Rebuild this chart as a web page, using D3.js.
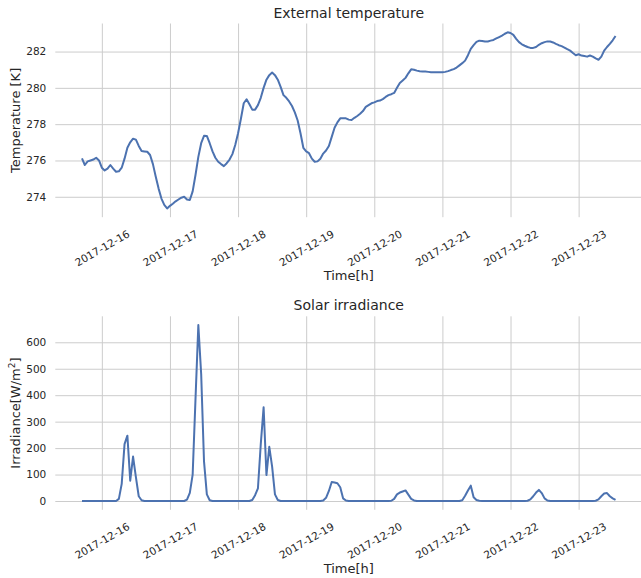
<!DOCTYPE html>
<html>
<head>
<meta charset="utf-8">
<script src="https://cdn.jsdelivr.net/npm/d3@7"></script>
<style>
  body { margin: 0; background: #fff; }
  svg { display: block; font-family: "DejaVu Sans", sans-serif; }
</style>
</head>
<body>
<svg id="chart"></svg>
<script>
/* hourly samples starting 2017-12-15 17:00 */
const startTime = Date.UTC(2017, 11, 15, 17);
const stepHours = 1;

const dayTicks = ['2017-12-16', '2017-12-17', '2017-12-18', '2017-12-19',
  '2017-12-20', '2017-12-21', '2017-12-22', '2017-12-23'];
const tempTicks = [274, 276, 278, 280, 282];
const irrTicks = [0, 100, 200, 300, 400, 500, 600];

const temperature = [
  276.12, 275.75, 275.95, 276.0, 276.05, 276.15, 276.0, 275.6, 275.45, 275.55,
  275.75, 275.55, 275.38, 275.4, 275.6, 276.1, 276.7, 277.0, 277.2, 277.15,
  276.8, 276.52, 276.5, 276.48, 276.3, 275.8, 275.1, 274.45, 273.9, 273.55,
  273.36, 273.5, 273.62, 273.75, 273.85, 273.95, 274.0, 273.85, 273.82, 274.3,
  275.2, 276.2, 276.95, 277.36, 277.35, 276.95, 276.5, 276.15, 275.93, 275.8,
  275.69, 275.85, 276.05, 276.35, 276.85, 277.5, 278.3, 279.15, 279.37, 279.1,
  278.8, 278.8, 279.05, 279.45, 280.0, 280.45, 280.7, 280.84, 280.7, 280.45,
  280.05, 279.6, 279.45, 279.25, 279.0, 278.65, 278.2, 277.5, 276.7, 276.5,
  276.4, 276.1, 275.93, 275.95, 276.1, 276.38, 276.55, 276.8, 277.3, 277.8,
  278.1, 278.32, 278.32, 278.32, 278.25, 278.23, 278.35, 278.45, 278.57, 278.72,
  278.95, 279.05, 279.15, 279.2, 279.27, 279.3, 279.38, 279.5, 279.6, 279.65,
  279.72, 280.0, 280.27, 280.4, 280.55, 280.8, 281.02, 281.0, 280.95, 280.92,
  280.9, 280.9, 280.88, 280.86, 280.86, 280.86, 280.86, 280.86, 280.88, 280.92,
  280.98, 281.03, 281.12, 281.24, 281.36, 281.5, 281.8, 282.15, 282.35, 282.53,
  282.6, 282.58, 282.55, 282.55, 282.6, 282.64, 282.72, 282.8, 282.88, 282.98,
  283.06, 283.02, 282.92, 282.7, 282.52, 282.4, 282.32, 282.25, 282.2, 282.2,
  282.25, 282.37, 282.46, 282.52, 282.56, 282.55, 282.5, 282.42, 282.35, 282.3,
  282.22, 282.13, 282.05, 281.92, 281.8, 281.85, 281.78, 281.75, 281.72, 281.78,
  281.72, 281.62, 281.55, 281.72, 282.05, 282.25, 282.42, 282.62, 282.86
];

const irradiance = [
  0, 0, 0, 0, 0, 0, 0, 0, 0, 0,
  0, 0, 0, 8, 65, 215, 247, 77, 168, 90,
  18, 3, 0, 0, 0, 0, 0, 0, 0, 0,
  0, 0, 0, 0, 0, 0, 0, 5, 31, 100,
  385, 665, 480, 150, 25, 3, 0, 0, 0, 0,
  0, 0, 0, 0, 0, 0, 0, 0, 0, 0,
  4, 22, 48, 215, 354, 98, 205, 130, 25, 4,
  0, 0, 0, 0, 0, 0, 0, 0, 0, 0,
  0, 0, 0, 0, 0, 2, 12, 38, 72, 70,
  67, 52, 10, 2, 0, 0, 0, 0, 0, 0,
  0, 0, 0, 0, 0, 0, 0, 0, 0, 1,
  8, 25, 32, 36, 40, 24, 8, 2, 0, 0,
  0, 0, 0, 0, 0, 0, 0, 0, 0, 0,
  0, 0, 0, 0, 3, 20, 40, 58, 14, 4,
  1, 0, 0, 0, 0, 0, 0, 0, 0, 0,
  0, 0, 0, 0, 0, 0, 0, 1, 6, 18,
  32, 42, 30, 10, 2, 0, 0, 0, 0, 0,
  0, 0, 0, 0, 0, 0, 0, 0, 0, 0,
  0, 1, 6, 18, 28, 30, 18, 10, 4
];

const width = 641, height = 578;
const textColor = '#262626', gridColor = '#cccccc', lineColor = '#4c72b0';
const left = 55.3, right = 642.2;

const svg = d3.select('#chart').attr('width', width).attr('height', height);

const times = temperature.map((d, i) => new Date(startTime + i * stepHours * 3600e3));

// matplotlib-like 5% margins
function padded(ext) {
  const r = ext[1] - ext[0];
  return [ext[0] - 0.05 * r, ext[1] + 0.05 * r];
}

const tExt = d3.extent(times, d => +d);
const xScale = d3.scaleUtc().domain(padded(tExt)).range([left, right]);

function drawPanel(values, ticks, top, bottom, title, yLabel) {
  const yScale = d3.scaleLinear().domain(padded(d3.extent(values))).range([bottom, top]);
  const g = svg.append('g');

  // horizontal grid + y tick labels
  const yAxis = d3.axisLeft(yScale).tickValues(ticks).tickSize(-(width - left)).tickPadding(9).tickFormat(d3.format('d'));
  g.append('g')
    .attr('transform', `translate(${left},0)`)
    .call(yAxis)
    .call(a => a.select('.domain').remove())
    .call(a => a.selectAll('line').attr('stroke', gridColor).attr('stroke-width', 1))
    .call(a => a.selectAll('text').attr('fill', textColor).attr('font-size', 10.5).attr('font-family', 'DejaVu Sans'));

  // vertical grid + rotated date labels
  const dayDates = dayTicks.map(s => new Date(s + 'T00:00:00Z'));
  const xAxis = d3.axisBottom(xScale).tickValues(dayDates).tickSize(-(bottom - top)).tickFormat(d3.utcFormat('%Y-%m-%d'));
  g.append('g')
    .attr('transform', `translate(0,${bottom})`)
    .call(xAxis)
    .call(a => a.select('.domain').remove())
    .call(a => a.selectAll('line').attr('stroke', gridColor).attr('stroke-width', 1))
    .call(a => a.selectAll('text')
      .attr('fill', textColor).attr('font-size', 10.5).attr('font-family', 'DejaVu Sans')
      .attr('text-anchor', 'middle').attr('y', 31).attr('dy', '0.35em')
      .attr('transform', 'rotate(-30,0,31)'));

  const line = d3.line().x((d, i) => xScale(times[i])).y(d => yScale(d));
  g.append('path')
    .datum(values)
    .attr('d', line)
    .attr('fill', 'none')
    .attr('stroke', lineColor)
    .attr('stroke-width', 2)
    .attr('stroke-linejoin', 'round');

  g.append('text')
    .attr('x', (left + right) / 2).attr('y', top - 6)
    .attr('text-anchor', 'middle').attr('fill', textColor).attr('font-size', 14)
    .text(title);

  g.append('text')
    .attr('x', (left + right) / 2).attr('y', bottom + 63)
    .attr('text-anchor', 'middle').attr('fill', textColor).attr('font-size', 13)
    .text('Time[h]');

  const yl = g.append('text')
    .attr('transform', `translate(20,${(top + bottom) / 2}) rotate(-90)`)
    .attr('text-anchor', 'middle').attr('fill', textColor).attr('font-size', 13);
  yLabel(yl);
}

drawPanel(temperature, tempTicks, 23.5, 217.2, 'External temperature', t => t.text('Temperature [K]'));
drawPanel(irradiance, irrTicks, 316.3, 509.8, 'Solar irradiance', t => {
  t.append('tspan').text('Irradiance[W/m');
  t.append('tspan').attr('dy', -5).attr('font-size', 9).text('2');
  t.append('tspan').attr('dy', 5).text(']');
});
</script>
</body>
</html>
